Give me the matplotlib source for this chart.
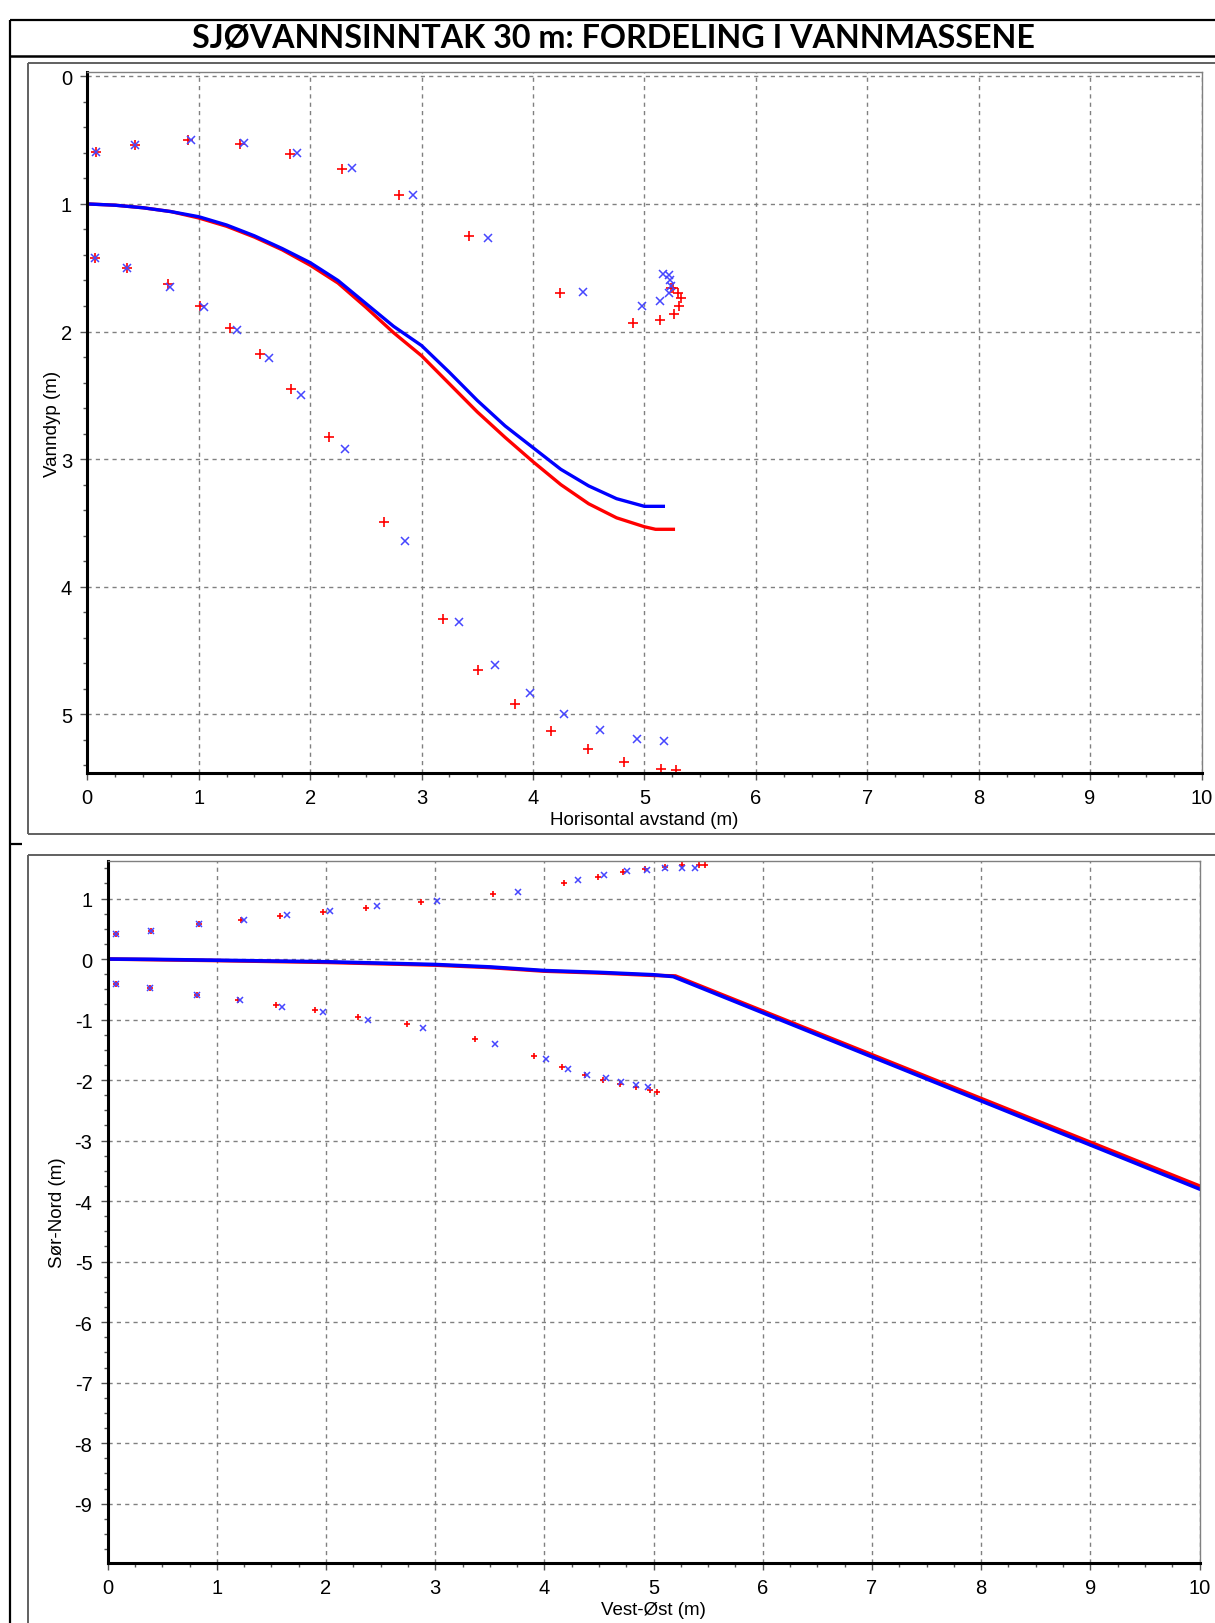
import numpy as np
import matplotlib
matplotlib.use("Agg")
import matplotlib.pyplot as plt
from matplotlib.lines import Line2D
from matplotlib.ticker import MultipleLocator

plt.rcParams["axes.unicode_minus"] = False

W, H = 1215, 1624
TITLE = "SJØVANNSINNTAK 30 m: FORDELING I VANNMASSENE"
FONT = ["Liberation Sans", "DejaVu Sans"]

# ---- top panel: depth vs horizontal distance ----
top_blue_line_x = [0, 0.25, 0.5, 0.75, 1.0, 1.25, 1.5, 1.75, 2.0, 2.25, 2.5, 2.75, 3.0,
                   3.25, 3.5, 3.75, 4.0, 4.25, 4.5, 4.75, 5.0, 5.17]
top_blue_line_y = [1.0, 1.01, 1.03, 1.06, 1.10, 1.165, 1.25, 1.35, 1.46, 1.60, 1.78, 1.96, 2.11,
                   2.32, 2.54, 2.74, 2.91, 3.08, 3.21, 3.31, 3.37, 3.37]
top_red_line_x = [0, 0.25, 0.5, 0.75, 1.0, 1.25, 1.5, 1.75, 2.0, 2.25, 2.5, 2.75, 3.0,
                  3.25, 3.5, 3.75, 4.0, 4.25, 4.5, 4.75, 5.0, 5.1, 5.26]
top_red_line_y = [1.0, 1.01, 1.03, 1.06, 1.11, 1.175, 1.26, 1.36, 1.48, 1.62, 1.81, 2.01, 2.19,
                  2.41, 2.63, 2.83, 3.02, 3.20, 3.35, 3.46, 3.53, 3.55, 3.55]

top_red_upper_x = [0.08, 0.43, 0.90, 1.37, 1.82, 2.29, 2.80, 3.43, 4.24, 4.90, 5.14, 5.27,
                   5.31, 5.33, 5.30, 5.26, 5.24]
top_red_upper_y = [0.59, 0.54, 0.50, 0.53, 0.61, 0.73, 0.93, 1.25, 1.70, 1.93, 1.91, 1.86,
                   1.80, 1.74, 1.70, 1.66, 1.66]
top_blue_upper_x = [0.08, 0.43, 0.93, 1.41, 1.88, 2.38, 2.92, 3.60, 4.45, 4.98, 5.14, 5.22,
                    5.24, 5.23, 5.22, 5.17]
top_blue_upper_y = [0.59, 0.54, 0.50, 0.52, 0.60, 0.72, 0.93, 1.27, 1.69, 1.80, 1.76, 1.70,
                    1.64, 1.60, 1.56, 1.55]

top_red_lower_x = [0.07, 0.36, 0.72, 1.01, 1.28, 1.55, 1.83, 2.17, 2.66, 3.19, 3.51, 3.84,
                   4.16, 4.49, 4.82, 5.15, 5.28]
top_red_lower_y = [1.42, 1.50, 1.63, 1.80, 1.97, 2.18, 2.45, 2.83, 3.49, 4.25, 4.65, 4.92,
                   5.13, 5.27, 5.37, 5.43, 5.44]
top_blue_lower_x = [0.07, 0.36, 0.74, 1.05, 1.34, 1.63, 1.92, 2.31, 2.85, 3.34, 3.66, 3.97,
                    4.28, 4.60, 4.93, 5.18]
top_blue_lower_y = [1.42, 1.50, 1.65, 1.81, 1.99, 2.21, 2.50, 2.92, 3.64, 4.28, 4.61, 4.83,
                    5.00, 5.12, 5.19, 5.21]

# ---- bottom panel: south-north vs west-east ----
bot_blue_line_x = [0, 0.4, 1.0, 2.0, 3.0, 3.5, 4.0, 4.5, 5.0, 5.18, 10.0]
bot_blue_line_y = [0.0, -0.005, -0.02, -0.045, -0.09, -0.13, -0.19, -0.22, -0.26, -0.29, -3.80]
bot_red_line_x = [0, 0.4, 1.0, 2.0, 3.0, 3.5, 4.0, 4.5, 5.0, 5.2, 10.0]
bot_red_line_y = [0.0, -0.01, -0.025, -0.055, -0.10, -0.14, -0.20, -0.23, -0.27, -0.28, -3.75]

bot_red_upper_x = [0.08, 0.40, 0.84, 1.22, 1.58, 1.97, 2.37, 2.87, 3.53, 4.18, 4.49, 4.72,
                   4.92, 5.10, 5.26, 5.42, 5.47]
bot_red_upper_y = [0.41, 0.47, 0.58, 0.65, 0.71, 0.77, 0.85, 0.94, 1.07, 1.26, 1.36, 1.44,
                   1.49, 1.52, 1.56, 1.56, 1.56]
bot_blue_upper_x = [0.08, 0.40, 0.84, 1.25, 1.64, 2.04, 2.47, 3.02, 3.76, 4.31, 4.55, 4.76,
                    4.94, 5.10, 5.26, 5.38]
bot_blue_upper_y = [0.41, 0.47, 0.58, 0.64, 0.73, 0.79, 0.88, 0.96, 1.11, 1.30, 1.39, 1.46,
                    1.47, 1.51, 1.51, 1.51]

bot_red_lower_x = [0.08, 0.39, 0.82, 1.19, 1.54, 1.90, 2.29, 2.74, 3.36, 3.90, 4.16, 4.37,
                   4.54, 4.69, 4.84, 4.97, 5.03]
bot_red_lower_y = [-0.42, -0.48, -0.59, -0.67, -0.76, -0.85, -0.96, -1.08, -1.32, -1.61, -1.78,
                   -1.91, -2.00, -2.06, -2.12, -2.16, -2.19]
bot_blue_lower_x = [0.08, 0.39, 0.82, 1.21, 1.60, 1.97, 2.38, 2.89, 3.55, 4.01, 4.22, 4.39,
                    4.56, 4.70, 4.84, 4.95]
bot_blue_lower_y = [-0.42, -0.48, -0.59, -0.68, -0.79, -0.87, -1.00, -1.14, -1.40, -1.65, -1.81,
                    -1.92, -1.97, -2.04, -2.08, -2.12]


def fx(px):
    return px / W


def fy(py):
    return 1 - py / H


def fig_line(fig, xs, ys, color="black", lw=1.5):
    fig.add_artist(Line2D([fx(v) for v in xs], [fy(v) for v in ys],
                          color=color, lw=lw, solid_capstyle="butt"))


def style_axes(ax, xlabel, ylabel, ylim, yminor, ylabelpad):
    ax.set_xlim(0, 10)
    ax.set_ylim(*ylim)
    ax.xaxis.set_major_locator(MultipleLocator(1))
    ax.xaxis.set_minor_locator(MultipleLocator(0.25))
    ax.yaxis.set_major_locator(MultipleLocator(1))
    ax.yaxis.set_minor_locator(MultipleLocator(yminor))
    ax.grid(True, which="major", color="#808080", linestyle=(0, (3, 3)), linewidth=1.0)
    for s in ("left", "bottom"):
        ax.spines[s].set_color("black")
        ax.spines[s].set_linewidth(2.2)
    for s in ("top", "right"):
        ax.spines[s].set_color("#808080")
        ax.spines[s].set_linewidth(1.0)
    ax.tick_params(which="major", length=5, width=1, color="#555555", labelsize=14.5, pad=6)
    ax.tick_params(which="minor", length=3, width=1, color="#555555")
    for lab in ax.get_xticklabels() + ax.get_yticklabels():
        lab.set_family(FONT)
    ax.set_xlabel(xlabel, fontsize=13.5, family=FONT, labelpad=3)
    ax.set_ylabel(ylabel, fontsize=13.5, family=FONT, labelpad=ylabelpad)


fig = plt.figure(figsize=(W / 100, H / 100), dpi=100)

# outer border and title
fig_line(fig, [10, 10], [21, H], lw=1.6)
fig_line(fig, [10, W], [21, 21], lw=1.6)
fig_line(fig, [10, W], [57, 57], lw=1.8)
fig_line(fig, [10, 22], [845, 845], lw=1.6)
fig.text(fx(613), fy(38), TITLE, ha="center", va="center", fontsize=23.2,
         fontweight="bold", family=["Lato", "DejaVu Sans"])

# panel frames
fig_line(fig, [28, W], [64, 64], color="#606060", lw=1.4)
fig_line(fig, [28, 28], [64, 835], color="#606060", lw=1.4)
fig_line(fig, [28, W], [835, 835], color="#606060", lw=1.4)
fig_line(fig, [28, W], [856, 856], color="#606060", lw=1.4)
fig_line(fig, [28, 28], [856, H], color="#606060", lw=1.4)

red = "#ff0000"
blue = "#0000ff"
mblue = "#4646ff"

# top panel
ax1 = fig.add_axes([fx(87.3), fy(774), fx(1201.5) - fx(87.3), (774 - 73) / H])
ax1.plot(top_red_line_x, top_red_line_y, color=red, lw=2.4)
ax1.plot(top_blue_line_x, top_blue_line_y, color=blue, lw=2.4)
ax1.plot(top_red_upper_x, top_red_upper_y, "+", color=red, ms=7, mew=1.2)
ax1.plot(top_red_lower_x, top_red_lower_y, "+", color=red, ms=7, mew=1.2)
ax1.plot(top_blue_upper_x, top_blue_upper_y, "x", color=mblue, ms=6, mew=1.1)
ax1.plot(top_blue_lower_x, top_blue_lower_y, "x", color=mblue, ms=6, mew=1.1)
style_axes(ax1, "Horisontal avstand (m)", "Vanndyp (m)", (5.46, -0.034), 0.2, 0)

# bottom panel
ax2 = fig.add_axes([fx(107.7), fy(1564), fx(1199.5) - fx(107.7), (1564 - 862) / H])
ax2.plot(bot_red_line_x, bot_red_line_y, color=red, lw=2.6)
ax2.plot(bot_blue_line_x, bot_blue_line_y, color=blue, lw=2.6)
ax2.plot(bot_red_upper_x, bot_red_upper_y, "+", color=red, ms=5, mew=1.2)
ax2.plot(bot_red_lower_x, bot_red_lower_y, "+", color=red, ms=5, mew=1.2)
ax2.plot(bot_blue_upper_x, bot_blue_upper_y, "x", color=mblue, ms=4.5, mew=1.1)
ax2.plot(bot_blue_lower_x, bot_blue_lower_y, "x", color=mblue, ms=4.5, mew=1.1)
style_axes(ax2, "Vest-Øst (m)", "Sør-Nord (m)", (-9.98, 1.62), 0.25, 6)

fig.savefig("out.png", dpi=100)
